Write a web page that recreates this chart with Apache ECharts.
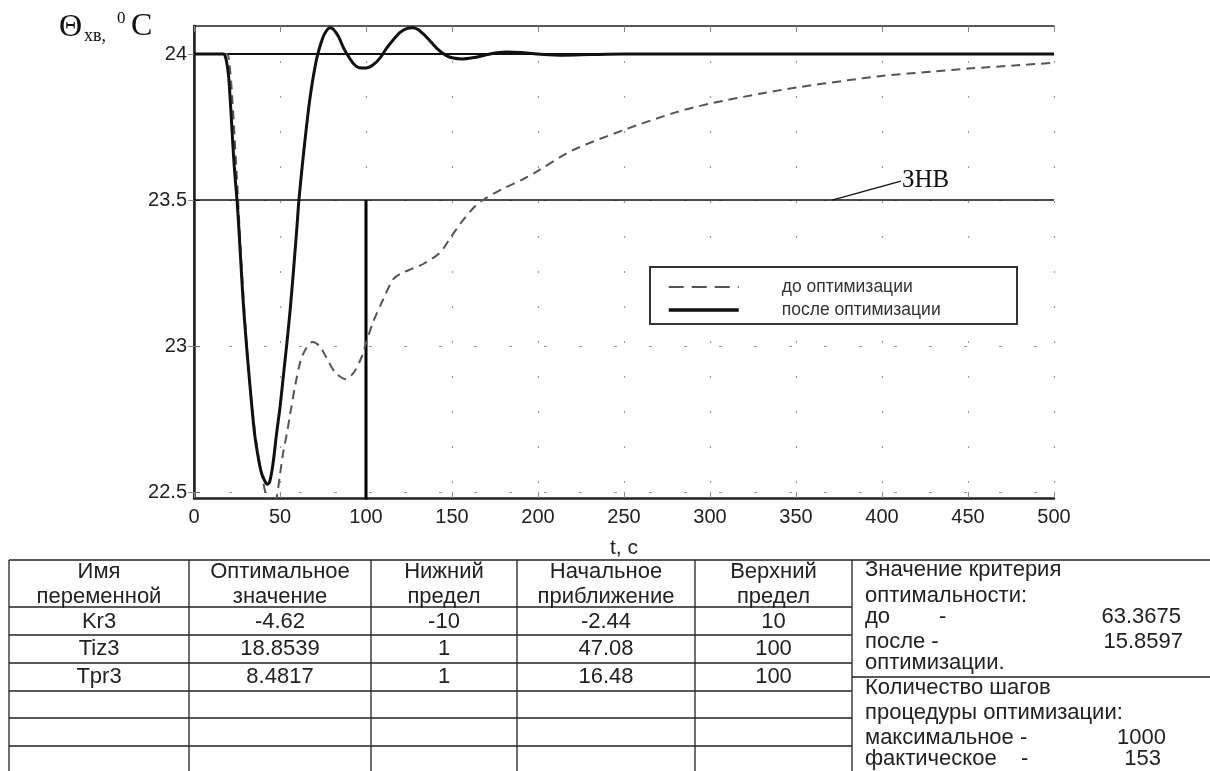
<!DOCTYPE html>
<html><head><meta charset="utf-8">
<script src="https://cdn.jsdelivr.net/npm/echarts@6/dist/echarts.min.js"></script>
<style>html,body{margin:0;padding:0;background:#fff}#c{width:1210px;height:771px}</style>
</head><body><div id="c"></div>
<script>
// ---- data ----
const tBefore=[0,10,19,20.5,22,25,28,32,36,40,43,46,48,50,52,54,56,59,62,65,69,73,77,82,88,93,98,99.5,104,110,116,121,127,133,143,149,155,162,168,180,191,200,220,250,280,300,330,350,380,400,430,450,480,500];
const vBefore=[24,24,24,23.97,23.87,23.57,23.24,22.9,22.68,22.54,22.47,22.45,22.48,22.56,22.64,22.70,22.77,22.87,22.95,22.99,23.014,23.0,22.96,22.91,22.887,22.91,22.97,23.0,23.08,23.16,23.23,23.25,23.265,23.28,23.32,23.37,23.42,23.47,23.5,23.54,23.57,23.6,23.67,23.74,23.8,23.83,23.865,23.885,23.91,23.925,23.94,23.95,23.962,23.97];
const tAfter=[0,10,17,18.5,20,21,22,23,24,25,26,27,28.5,30,32,35,37,39,41,42.5,44,46,48,50,52,54,56,58,60,61,63,65,67,69,71,72,74,76,79,81,84,87,90,93,96,100,104,108,112,116,120,124,127,130,134,138,142,146,150,156,162,170,176,182,190,200,215,230,250,300,400,500];
const vAfter=[24,24,24,23.985,23.93,23.85,23.75,23.65,23.57,23.5,23.41,23.31,23.16,23.04,22.9,22.71,22.63,22.57,22.54,22.527,22.535,22.6,22.7,22.79,22.9,23.01,23.13,23.27,23.42,23.5,23.62,23.73,23.83,23.91,23.975,24.0,24.04,24.07,24.09,24.085,24.06,24.02,23.99,23.965,23.953,23.952,23.962,23.985,24.02,24.05,24.075,24.088,24.09,24.085,24.065,24.04,24.015,23.997,23.987,23.983,23.987,23.997,24.004,24.007,24.005,24.0,23.996,23.998,24.0,24.0,24.0,24.0];
const setpoint=24;
const znv=23.5;
const markerT=100;
const znvLeader=[[371,23.5],[411,23.565]];
const xRange=[0,500];
const xStep=50;
const yRange=[22.4795,24.0959];
const yTickValues=[22.5,23,23.5,24];
const legendNames=['до оптимизации','после оптимизации'];
const xName='t, c';
const yTitle=['Θ','хв,','0','C'];
const tableHeader=[['Имя','переменной'],['Оптимальное','значение'],['Нижний','предел'],['Начальное','приближение'],['Верхний','предел']];
const varNames=['Kr3','Tiz3','Tpr3'];
const optValues=['-4.62','18.8539','8.4817'];
const lowerLimits=['-10','1','1'];
const initValues=['-2.44','47.08','16.48'];
const upperLimits=['10','100','100'];
const critLines=['Значение критерия','оптимальности:','до        -','после -','оптимизации.'];
const critValues=['63.3675','15.8597'];
const stepLines=['Количество шагов','процедуры оптимизации:','максимальное -','фактическое    -'];
const stepValues=['1000','153'];

// ---- build ----
const zip=(a,b)=>a.map((x,i)=>[x,b[i]]);
const chart=echarts.init(document.getElementById('c'),null,{renderer:'canvas'});
const SANS='Liberation Sans, Arial, sans-serif';
const SERIF='Liberation Serif, Times New Roman, serif';
const gridDot={show:true,lineStyle:{color:'#9a9a9a',width:1.2,type:[2,33]}};

const g=[];
// y title
g.push({type:'text',x:59,y:28,z:10,style:{text:yTitle[0],font:'32px '+SERIF,fill:'#111',verticalAlign:'middle'}});
g.push({type:'text',x:84,y:36,z:10,style:{text:yTitle[1],font:'18px '+SERIF,fill:'#111',verticalAlign:'middle'}});
g.push({type:'text',x:117,y:19,z:10,style:{text:yTitle[2],font:'17px '+SERIF,fill:'#111',verticalAlign:'middle'}});
g.push({type:'text',x:131,y:27,z:10,style:{text:yTitle[3],font:'32px '+SERIF,fill:'#111',verticalAlign:'middle'}});
// legend frame
g.push({type:'rect',z:3,shape:{x:650,y:267,width:367,height:57},style:{fill:'#fff',stroke:'#333',lineWidth:2}});
// table
const LC='#222';
const hl=(y,x1,x2)=>g.push({type:'line',z:5,shape:{x1:x1,y1:y,x2:x2,y2:y},style:{stroke:LC,lineWidth:1.3}});
const vl=(x,y1,y2)=>g.push({type:'line',z:5,shape:{x1:x,y1:y1,x2:x,y2:y2},style:{stroke:LC,lineWidth:1.3}});
const colX=[9,189,371,517,695,852];
const rowY=[607,635,663,691,718,746];
hl(560,9,1210);
rowY.forEach(y=>hl(y,9,852));
hl(677,852,1210);
colX.forEach(x=>vl(x,560,771));
const FS=22;
const txt=(s,x,y,align)=>g.push({type:'text',z:6,x:x,y:y,style:{text:s,font:FS+'px '+SANS,fill:'#222',align:align||'center',verticalAlign:'middle'}});
tableHeader.forEach((h,i)=>{const cx=(colX[i]+colX[i+1])/2;txt(h[0],cx,572);txt(h[1],cx,597);});
const cols=[varNames,optValues,lowerLimits,initValues,upperLimits];
const rowC=[622,649,677];
cols.forEach((col,i)=>{const cx=(colX[i]+colX[i+1])/2;col.forEach((v,r)=>txt(v,cx,rowC[r]));});
const rx=865;
const critY=[570,596,617,642,663];
critLines.forEach((s,i)=>txt(s,rx,critY[i],'left'));
txt(critValues[0],1181,617,'right');
txt(critValues[1],1183,642,'right');
const stepY=[688,713,738,759];
stepLines.forEach((s,i)=>txt(s,rx,stepY[i],'left'));
txt(stepValues[0],1166,738,'right');
txt(stepValues[1],1161,759,'right');

const option={
  animation:false,
  backgroundColor:'#fff',
  grid:{left:194,right:156,top:26,bottom:273},
  legend:{data:[
      {name:legendNames[0],lineStyle:{type:[15,8],width:2,color:'#555'}},
      {name:legendNames[1],lineStyle:{width:3.5,color:'#111'}}
    ],orient:'vertical',left:667,top:278,itemWidth:70,itemHeight:14,itemGap:5,padding:0,z:8,
    itemStyle:{opacity:0},
    textStyle:{fontSize:17.5,fontFamily:SANS,color:'#333',padding:[0,0,0,38]}},
  xAxis:[
    {type:'value',min:xRange[0],max:xRange[1],interval:xStep,position:'bottom',
     name:xName,nameLocation:'middle',nameGap:40,nameTextStyle:{fontSize:21,fontFamily:SANS,color:'#222'},
     axisLine:{lineStyle:{color:'#222',width:2.5}},axisTick:{inside:true,length:6,lineStyle:{color:'#888'}},
     axisLabel:{fontSize:20,fontFamily:SANS,color:'#222',margin:9},splitLine:gridDot},
    {type:'value',min:xRange[0],max:xRange[1],interval:xStep,position:'top',
     axisLine:{lineStyle:{color:'#222',width:1.5}},axisTick:{inside:true,length:6,lineStyle:{color:'#888'}},
     axisLabel:{show:false},splitLine:{show:false}}
  ],
  yAxis:[
    {type:'value',min:yRange[0],max:yRange[1],position:'left',
     axisLine:{lineStyle:{color:'#222',width:2.5}},
     axisTick:{inside:true,length:6,customValues:yTickValues,lineStyle:{color:'#666'}},
     axisLabel:{fontSize:20,fontFamily:SANS,color:'#222',margin:7,customValues:yTickValues,formatter:v=>String(+v.toFixed(1))},
     splitLine:{show:true,lineStyle:{color:'#9a9a9a',width:1.2,type:[3,32]}}},
    {type:'value',min:yRange[0],max:yRange[1],position:'right',
     axisLine:{lineStyle:{color:'#222',width:1.5}},
     axisTick:{inside:true,length:6,customValues:yTickValues,lineStyle:{color:'#888'}},
     axisLabel:{show:false,customValues:yTickValues},splitLine:{show:false}}
  ],
  series:[
    {name:'setpoint',type:'line',data:[[xRange[0],setpoint],[xRange[1],setpoint]],symbol:'none',silent:true,z:3,
     lineStyle:{color:'#111',width:2}},
    {name:'znv',type:'line',data:[[xRange[0],znv],[xRange[1],znv]],symbol:'none',silent:true,z:3,
     lineStyle:{color:'#111',width:1.5},
     markLine:{symbol:'none',silent:true,animation:false,lineStyle:{color:'#111',width:1.3,type:'solid'},
       label:{show:true,position:'end',formatter:'ЗНВ',fontFamily:SERIF,fontSize:25,color:'#111',distance:1},
       data:[[{coord:znvLeader[0]},{coord:znvLeader[1]}]]}},
    {name:'marker',type:'line',data:[[markerT,znv],[markerT,yRange[0]-0.1]],symbol:'none',silent:true,z:3,
     lineStyle:{color:'#000',width:3}},
    {name:legendNames[0],type:'line',data:zip(tBefore,vBefore),symbol:'none',smooth:0.3,z:4,
     lineStyle:{color:'#555',width:2,type:[9,6]},itemStyle:{color:'#555'}},
    {name:legendNames[1],type:'line',data:zip(tAfter,vAfter),symbol:'none',smooth:0.3,z:5,
     lineStyle:{color:'#111',width:3},itemStyle:{color:'#111'}}
  ],
  graphic:{elements:g}
};
chart.setOption(option);
</script>
</body></html>
